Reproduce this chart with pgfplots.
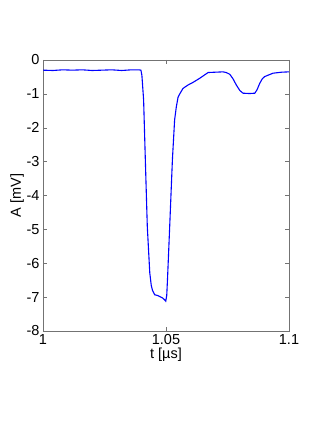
\documentclass[border=0pt]{standalone}
\usepackage{fontspec}
\setmainfont{Liberation Sans}
\usepackage{pgfplots}
\pgfplotsset{compat=1.18}
\begin{document}
\begin{tikzpicture}
\path[use as bounding box] (-43pt,-99pt) rectangle (289pt,331pt);
\begin{axis}[
  at={(0,0)}, anchor=south west,
  scale only axis,
  width=246pt, height=271pt,
  xmin=1, xmax=1.1,
  ymin=-8, ymax=0,
  xtick={1,1.05,1.1},
  xticklabels={1,1.05,1.1},
  ytick={-8,-7,...,0},
  yticklabels={-8,-7,-6,-5,-4,-3,-2,-1,0},
  tick align=inside,
  tick pos=both,
  major tick length=4pt,
  axis line style={black!55},
  every tick/.style={black!55},
  ticklabel style={font=\fontsize{14.5}{16}\selectfont},
  /pgf/number format/assume math mode=true,
  xlabel={t [\textmu s]},
  ylabel={A [mV]},
  label style={font=\fontsize{14.5}{16}\selectfont},
  xlabel style={at={(axis description cs:0.5,-0.088)}, anchor=center},
  ylabel style={at={(axis description cs:-0.105,0.5)}, anchor=center},
]
% trace
\addplot[color=blue, line width=1.1pt, no markers] coordinates {
  (1.000,-0.30) (1.004,-0.31) (1.008,-0.29) (1.012,-0.30) (1.016,-0.29)
  (1.020,-0.31) (1.024,-0.30) (1.028,-0.29) (1.032,-0.31) (1.036,-0.29)
  (1.0390,-0.29) (1.0398,-0.30) (1.0402,-0.45) (1.0409,-1.18) (1.0416,-2.95)
  (1.0424,-4.92) (1.0434,-6.28) (1.0440,-6.65) (1.0445,-6.80) (1.0454,-6.93)
  (1.0465,-6.95) (1.0474,-6.98) (1.0485,-7.02) (1.0493,-7.07) (1.0499,-7.12)
  (1.0503,-6.95) (1.0506,-6.49) (1.0515,-4.92) (1.0526,-2.95) (1.0535,-1.77)
  (1.0542,-1.38) (1.0549,-1.10) (1.0556,-1.00) (1.0569,-0.84) (1.0589,-0.74)
  (1.0610,-0.66) (1.0637,-0.54) (1.0655,-0.45) (1.0671,-0.37) (1.0700,-0.36)
  (1.0732,-0.35) (1.0745,-0.37) (1.0759,-0.42) (1.0772,-0.55) (1.0786,-0.74)
  (1.0800,-0.90) (1.0813,-0.98) (1.0840,-0.99) (1.0861,-0.98) (1.0870,-0.88)
  (1.0881,-0.69) (1.0891,-0.56) (1.0901,-0.49) (1.0935,-0.39) (1.0970,-0.36)
  (1.1000,-0.35)
};
\end{axis}
\end{tikzpicture}
\end{document}
